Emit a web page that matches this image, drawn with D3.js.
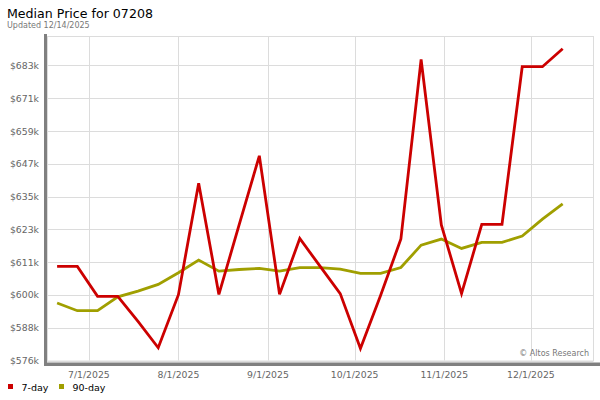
<!DOCTYPE html>
<html>
<head>
<meta charset="utf-8">
<script src="https://cdn.jsdelivr.net/npm/d3@7"></script>
<style>
  body { margin:0; background:#fff; }
  text { font-family: "DejaVu Sans", Verdana, sans-serif; }
</style>
</head>
<body>
<div id="chart"></div>
<script>
// weekly dates
var dates = ["2025-06-20","2025-06-27","2025-07-04","2025-07-11","2025-07-18","2025-07-25",
             "2025-08-01","2025-08-08","2025-08-15","2025-08-22","2025-08-29","2025-09-05",
             "2025-09-12","2025-09-19","2025-09-26","2025-10-03","2025-10-10","2025-10-17",
             "2025-10-24","2025-10-31","2025-11-07","2025-11-14","2025-11-21","2025-11-28",
             "2025-12-05","2025-12-12"];

// values in $k
var day7 = [610.4, 610.4, 599.6, 599.6, 590.5, 581.0,
            600.2, 640.5, 600.3, 625.4, 650.4, 600.3,
            620.5, 610.5, 600.6, 580.7, 600.0, 620.3,
            685.2, 625.4, 600.6, 625.6, 625.6, 682.6,
            682.6, 689.1];

var day90 = [597.2, 594.4, 594.4, 599.4, 601.5, 603.9,
             608.1, 612.7, 608.7, 609.3, 609.7, 608.7,
             610.0, 610.0, 609.4, 607.9, 607.9, 610.0,
             618.1, 620.3, 616.9, 619.1, 619.1, 621.4,
             627.5, 633.0];

var yTicks = [576.4, 588.25, 600.1, 611.95, 623.8, 635.65, 647.5, 659.35, 671.2, 683.05];
var xTicks = ["2025-07-01","2025-08-01","2025-09-01","2025-10-01","2025-11-01","2025-12-01"];

var seriesNames = ["7-day", "90-day"];
var colors = ["#cc0000", "#a09f00"];

var width = 600, height = 400;
var plot = { left:47, right:593, top:36, bottom:360.5 };

var parse = d3.utcParse("%Y-%m-%d");
var fmtTick = d3.utcFormat("%-m/%-d/%Y");

var svg = d3.select("#chart")
            .append("svg")
            .attr("width", width)
            .attr("height", height);

var x = d3.scaleUtc()
    .domain([new Date(Date.UTC(2025,5,16,12)), new Date(Date.UTC(2025,11,22,12))])
    .range([plot.left, plot.right]);

var y = d3.scaleLinear()
    .domain([576.4, 693.7])
    .range([plot.bottom, plot.top]);

// title
svg.append("text")
   .attr("x", 7).attr("y", 17.5)
   .attr("font-size", 12.6)
   .attr("fill", "#000")
   .text("Median Price for 07208");

svg.append("text")
   .attr("x", 7).attr("y", 27.5)
   .attr("font-size", 8)
   .attr("fill", "#777")
   .text("Updated 12/14/2025");

// shadow bars
svg.append("rect")
   .attr("x", 44).attr("y", 34)
   .attr("width", 3).attr("height", 332)
   .attr("fill", "#808080");
svg.append("rect")
   .attr("x", 44).attr("y", 362.5)
   .attr("width", 556).attr("height", 3.5)
   .attr("fill", "#808080");

// grid
var grid = svg.append("g");
grid.selectAll(".hgrid")
    .data(yTicks)
    .enter().append("line")
    .attr("x1", plot.left).attr("x2", plot.right)
    .attr("y1", function(d){ return Math.round(y(d)) + 0.5; })
    .attr("y2", function(d){ return Math.round(y(d)) + 0.5; })
    .attr("stroke", "#dcdcdc");

grid.selectAll(".vgrid")
    .data(xTicks)
    .enter().append("line")
    .attr("x1", function(d){ return Math.round(x(parse(d))) + 0.5; })
    .attr("x2", function(d){ return Math.round(x(parse(d))) + 0.5; })
    .attr("y1", plot.top).attr("y2", plot.bottom)
    .attr("stroke", "#dcdcdc");

// frame
svg.append("rect")
   .attr("x", plot.left + 0.5).attr("y", plot.top + 0.5)
   .attr("width", plot.right - plot.left).attr("height", plot.bottom - plot.top)
   .attr("fill", "none")
   .attr("stroke", "#dcdcdc");

// axis labels
svg.selectAll(".ylab")
   .data(yTicks)
   .enter().append("text")
   .attr("x", 39)
   .attr("y", function(d){ return y(d) + 3.5; })
   .attr("text-anchor", "end")
   .attr("font-size", 9.3)
   .attr("fill", "#666")
   .text(function(d){ return "$" + Math.floor(d) + "k"; });

svg.selectAll(".xlab")
   .data(xTicks)
   .enter().append("text")
   .attr("x", function(d){ return x(parse(d)); })
   .attr("y", 377.5)
   .attr("text-anchor", "middle")
   .attr("font-size", 9.3)
   .attr("fill", "#666")
   .text(function(d){ return fmtTick(parse(d)); });

// lines
var line = d3.line()
    .x(function(d, i){ return x(parse(dates[i])); })
    .y(function(d){ return y(d); });

[day90, day7].forEach(function(s, k){
  svg.append("path")
     .datum(s)
     .attr("d", line)
     .attr("fill", "none")
     .attr("stroke", k === 0 ? colors[1] : colors[0])
     .attr("stroke-width", 2.8)
     .attr("stroke-linejoin", "miter");
});

svg.append("text")
   .attr("x", 589).attr("y", 356)
   .attr("text-anchor", "end")
   .attr("font-size", 8)
   .attr("fill", "#777")
   .text("\u00a9 Altos Research");

// legend
var legendX = [8, 59];
var leg = svg.selectAll(".legend")
    .data(seriesNames)
    .enter().append("g")
    .attr("transform", function(d, i){ return "translate(" + legendX[i] + ",384)"; });
leg.append("rect")
   .attr("width", 5).attr("height", 5)
   .attr("fill", function(d, i){ return colors[i]; });
leg.append("text")
   .attr("x", 13.5).attr("y", 6.5)
   .attr("font-size", 9.5)
   .attr("fill", "#000")
   .text(function(d){ return d; });
</script>
</body>
</html>
